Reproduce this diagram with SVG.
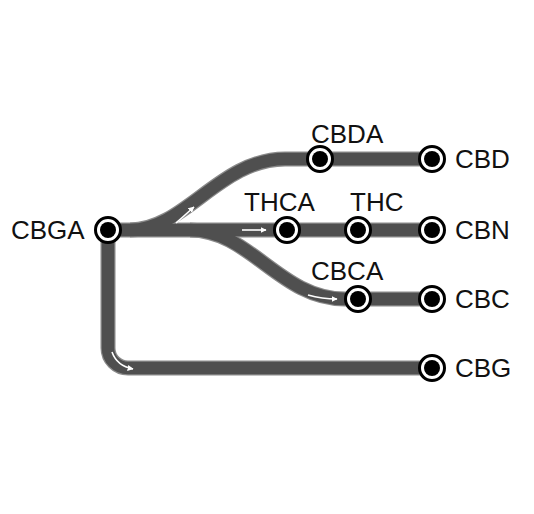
<svg xmlns="http://www.w3.org/2000/svg" width="534" height="514" viewBox="0 0 534 514">
<style>
.edge{fill:none;stroke:#8a8a8a;stroke-width:15}
.core{fill:none;stroke:#4f4f4f;stroke-width:12.5}
.arw{fill:none;stroke:#fff;stroke-width:1.6;marker-end:url(#ah)}
.ring{fill:#fff;stroke:#000;stroke-width:3}
.dot{fill:#000}
text{font-family:"Liberation Sans",Arial,sans-serif;font-size:26px;fill:#111}
</style>
<defs>
<marker id="ah" viewBox="0 0 10 10" refX="9" refY="5" markerWidth="6" markerHeight="6" orient="auto" markerUnits="userSpaceOnUse">
<path d="M0,0 L10,5 L0,10 z" fill="#fff"/>
</marker>
</defs>
<rect width="534" height="514" fill="#fff"/>
<g id="connectors">
<g class="edge">
<path d="M108 230 V348 A20 20 0 0 0 128 368 H432"/>
<path d="M130 230 C185 230 220 159 285 159 H432"/>
<path d="M190 230 C250 230 280 299 345 299 H432"/>
<path d="M108 230 H432"/>
</g>
<g class="core">
<path d="M108 230 V348 A20 20 0 0 0 128 368 H432"/>
<path d="M130 230 C185 230 220 159 285 159 H432"/>
<path d="M190 230 C250 230 280 299 345 299 H432"/>
<path d="M108 230 H432"/>
</g>
<path class="arw" d="M176 223 L194 207"/>
<path class="arw" d="M242 230 H266"/>
<path class="arw" d="M308 295 Q322 299 337 299"/>
<path class="arw" d="M112 352 Q117 366 133 369"/>
</g>
<g id="CBGA"><circle class="ring" cx="108" cy="230" r="12.5"/><circle class="dot" cx="108" cy="230" r="8"/><text x="11" y="239">CBGA</text></g>
<g id="CBDA"><circle class="ring" cx="320" cy="159" r="12.5"/><circle class="dot" cx="320" cy="159" r="8"/><text x="311" y="143">CBDA</text></g>
<g id="CBD"><circle class="ring" cx="432" cy="159" r="12.5"/><circle class="dot" cx="432" cy="159" r="8"/><text x="455" y="168">CBD</text></g>
<g id="THCA"><circle class="ring" cx="287" cy="230" r="12.5"/><circle class="dot" cx="287" cy="230" r="8"/><text x="244" y="211">THCA</text></g>
<g id="THC"><circle class="ring" cx="358" cy="230" r="12.5"/><circle class="dot" cx="358" cy="230" r="8"/><text x="350" y="211">THC</text></g>
<g id="CBN"><circle class="ring" cx="432" cy="230" r="12.5"/><circle class="dot" cx="432" cy="230" r="8"/><text x="455" y="239">CBN</text></g>
<g id="CBCA"><circle class="ring" cx="358" cy="299" r="12.5"/><circle class="dot" cx="358" cy="299" r="8"/><text x="311" y="280">CBCA</text></g>
<g id="CBC"><circle class="ring" cx="432" cy="299" r="12.5"/><circle class="dot" cx="432" cy="299" r="8"/><text x="455" y="308">CBC</text></g>
<g id="CBG"><circle class="ring" cx="432" cy="368" r="12.5"/><circle class="dot" cx="432" cy="368" r="8"/><text x="455" y="377">CBG</text></g>
</svg>
